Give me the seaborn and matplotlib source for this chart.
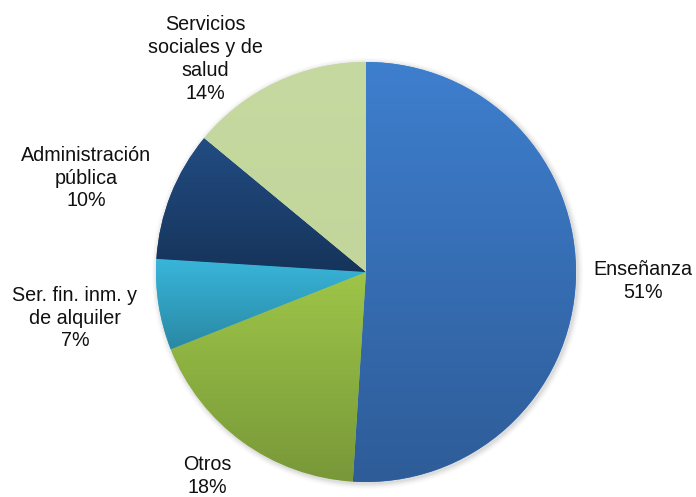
import numpy as np
import matplotlib
matplotlib.use("Agg")
import matplotlib.pyplot as plt
from matplotlib.colors import LinearSegmentedColormap
import seaborn as sns

# Employment share by sector
categories = ["Enseñanza", "Otros", "Ser. fin. inm. y\nde alquiler",
              "Administración\npública", "Servicios\nsociales y de\nsalud"]
values = [51, 18, 7, 10, 14]

# Top / bottom colours of the vertical gradient of each slice
top_colors = ["#3e7fce", "#9ec548", "#38b6da", "#224c82", "#c6d9a0"]
bottom_colors = ["#2e5c98", "#789839", "#2a88a4", "#16345b", "#c2d59b"]

# Label anchor points (figure pixels, centre of text block)
label_pos = [(643, 281), (207, 476), (75, 318), (86, 178), (205, 59)]

sns.set_theme(style="white")
plt.rcParams["font.family"] = ["Liberation Sans", "DejaVu Sans"]

W, H = 696, 497
fig = plt.figure(figsize=(W / 100, H / 100), dpi=100)
ax = fig.add_axes([0, 0, 1, 1])

cx, cy, r = 366, H - 272, 210

# soft drop shadow under the pie
for k, a in zip(range(6), [0.035, 0.03, 0.025, 0.02, 0.015, 0.01]):
    ax.add_patch(plt.Circle((cx + 1.5, cy - 1.5), r + 1 + k, color="black",
                            alpha=a, lw=0, zorder=0))

wedges, _ = ax.pie(values, startangle=90, counterclock=False,
                   center=(cx, cy), radius=r, colors=top_colors,
                   wedgeprops=dict(linewidth=0), frame=True)
ax.set_xlim(0, W)
ax.set_ylim(0, H)
ax.set_aspect("equal")
ax.axis("off")

grad = np.linspace(0, 1, 256).reshape(-1, 1)
for w, c0, c1 in zip(wedges, top_colors, bottom_colors):
    verts = w.get_patch_transform().transform(w.get_path().vertices)
    x0, y0 = verts.min(axis=0)
    x1, y1 = verts.max(axis=0)
    cmap = LinearSegmentedColormap.from_list("g", [c1, c0])
    im = ax.imshow(grad, cmap=cmap, extent=[x0, x1, y0, y1], origin="lower",
                   aspect="auto", zorder=2, interpolation="bilinear")
    im.set_clip_path(w)

for name, v, (lx, ly) in zip(categories, values, label_pos):
    ax.text(lx, H - ly, f"{name}\n{v}%", ha="center", va="center",
            fontsize=14.2, color="#111111", linespacing=1.26, zorder=5)

fig.savefig("out.png", dpi=100, facecolor="white")
